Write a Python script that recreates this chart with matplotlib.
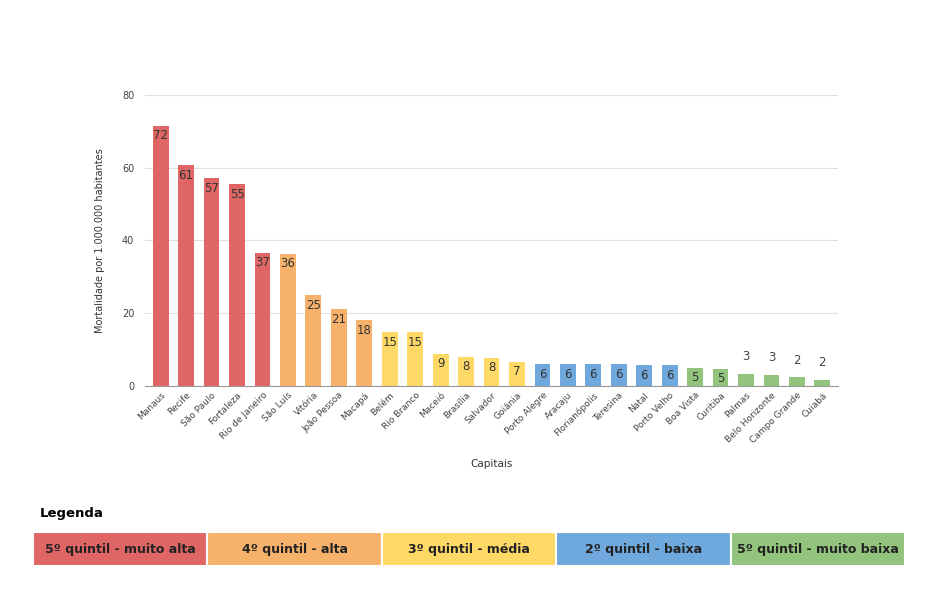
import matplotlib.pyplot as plt
from matplotlib.patches import Rectangle

# capitals and mortality per 1.000.000 inhabitants
capitais = ['Manaus', 'Recife', 'São Paulo', 'Fortaleza', 'Rio de Janeiro', 'São Luís',
            'Vitória', 'João Pessoa', 'Macapá', 'Belém', 'Rio Branco', 'Maceió',
            'Brasília', 'Salvador', 'Goiânia', 'Porto Alegre', 'Aracaju', 'Florianópolis',
            'Teresina', 'Natal', 'Porto Velho', 'Boa Vista', 'Curitiba', 'Palmas',
            'Belo Horizonte', 'Campo Grande', 'Cuiabá']
mortalidade = [71.5, 60.7, 57.1, 55.4, 36.6, 36.3, 25.0, 21.0, 18.0, 14.7, 14.7, 8.8,
               8.0, 7.7, 6.6, 6.0, 6.0, 6.0, 5.9, 5.7, 5.7, 5.0, 4.7, 3.3, 3.1, 2.3, 1.6]
# quintile of each capital (0 = muito alta ... 4 = muito baixa)
quintil = [0, 0, 0, 0, 0, 1, 1, 1, 1, 2, 2, 2, 2, 2, 2, 3, 3, 3, 3, 3, 3, 4, 4, 4, 4, 4, 4]

legenda = ['5º quintil - muito alta', '4º quintil - alta', '3º quintil - média',
           '2º quintil - baixa', '5º quintil - muito baixa']
cores = ['#e06666', '#f6b26b', '#ffd966', '#6fa8dc', '#93c47d']

fig = plt.figure(figsize=(9.38, 5.89), dpi=100)
ax = fig.add_axes([0.155, 0.345, 0.738, 0.494])

x = range(len(capitais))
ax.bar(x, mortalidade, width=0.62, color=[cores[q] for q in quintil], zorder=2)

for i, v in enumerate(mortalidade):
    if v > 4:
        ax.text(i, v - 1.0, str(round(v)), ha='center', va='top', fontsize=8.5, color='#333333', zorder=3)
    else:
        ax.text(i, v + 3.0, str(round(v)), ha='center', va='bottom', fontsize=8.5, color='#444444', zorder=3)

ax.set_ylim(0, 80)
ax.set_xlim(-0.6, len(capitais) - 0.4)
ax.set_yticks([0, 20, 40, 60, 80])
ax.grid(axis='y', color='#e0e0e0', linewidth=0.8, zorder=0)
for s in ['top', 'right', 'left']:
    ax.spines[s].set_visible(False)
ax.spines['bottom'].set_color('#999999')
ax.tick_params(axis='both', length=0, colors='#444444')
ax.tick_params(axis='y', pad=8, labelsize=7)
ax.tick_params(axis='x', labelsize=6.5)
ax.set_xticks(list(x))
ax.set_xticklabels(capitais, rotation=45, ha='right', rotation_mode='anchor')
ax.set_ylabel('Mortalidade por 1.000.000 habitantes', fontsize=7, color='#333333', labelpad=12)
ax.set_xlabel('Capitais', fontsize=7.5, color='#333333', labelpad=10)

# legend bar below the chart
fig.text(40 / 938, 1 - 514 / 589, 'Legenda', fontsize=9.5, fontweight='bold', va='center')
x0, x1 = 33 / 938, 905 / 938
w = (x1 - x0) / len(legenda)
y0, h = 1 - 566 / 589, 34 / 589
for k, (nome, cor) in enumerate(zip(legenda, cores)):
    fig.patches.append(Rectangle((x0 + k * w, y0), w, h, transform=fig.transFigure,
                                 facecolor=cor, edgecolor='white', linewidth=1.5))
    fig.text(x0 + (k + 0.5) * w, y0 + h / 2, nome, ha='center', va='center',
             fontsize=9, fontweight='bold', color='#222222')

fig.savefig('out.png', dpi=100)
